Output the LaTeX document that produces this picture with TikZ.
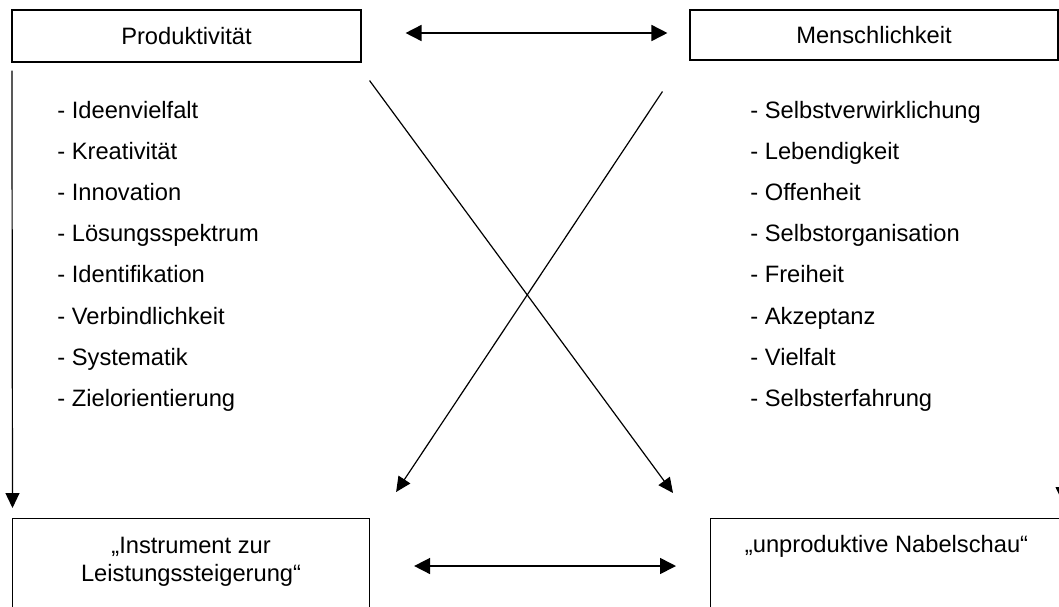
\documentclass[tikz,border=0pt]{standalone}
\usepackage{fontspec}
\setmainfont{Liberation Sans}
\usetikzlibrary{calc,positioning,arrows.meta}

\begin{document}
\begin{tikzpicture}[x=0.5pt, y=-0.5pt, every node/.style={font=\fontsize{11.85}{14}\selectfont},
  box/.style={draw, line width=0.55pt, inner sep=0pt},
  boxtext/.style={align=center, inner sep=0pt, anchor=north},
  arr/.style={-{Triangle[length=7.5pt,width=7pt]}, line width=0.6pt},
  dblarr/.style={{Triangle[length=8pt,width=8pt]}-{Triangle[length=8pt,width=8pt]}, line width=0.8pt},
  item/.style={anchor=base west, inner sep=0pt}]
  \clip (0,0) rectangle (1059,606);

  % Top boxes
  \node[box, minimum width=174.5pt, minimum height=26pt] (prod) at (186.5,36) {Produktivität};
  \node[box, minimum width=184pt, minimum height=25pt] (mensch) at (874,35) {Menschlichkeit};

  % Bottom boxes (open at the lower edge)
  \node[box, anchor=north west, minimum width=178.5pt, minimum height=65pt] (instr) at (12,518) {};
  \node[box, anchor=north west, minimum width=176pt, minimum height=65pt] (unprod) at (710,518) {};
  \node[boxtext] (instrtxt) at ($(instr.north)+(0,19)$) {„Instrument zur\\Leistungssteigerung“};
  \node[boxtext] (unprodtxt) at ($(unprod.north)+(0,17)$) {„unproduktive Nabelschau“};

  % Lists
  \foreach \txt [count=\i] in {Ideenvielfalt, Kreativität, Innovation, Lösungsspektrum,
      Identifikation, Verbindlichkeit, Systematik, Zielorientierung}
    \node[item] (prod\i) at (57,{118+41.2*(\i-1)}) {- \txt};
  \foreach \txt [count=\i] in {Selbstverwirklichung, Lebendigkeit, Offenheit, Selbstorganisation,
      Freiheit, Akzeptanz, Vielfalt, Selbsterfahrung}
    \node[item] (mensch\i) at (750,{118+41.2*(\i-1)}) {- \txt};

  % Arrows
  \draw[dblarr] ($(prod.east)+(44,-3)$) -- ($(mensch.west)+(-22,-2)$);
  \draw[dblarr] ($(instr.north east)+(44,48)$) -- ($(unprod.north west)+(-34,48)$);
  \draw[arr] ($(prod.south west)+(0.5,8)$) -- ($(instr.north west)+(0.5,-10)$);
  \draw[arr] ($(mensch.south east)+(4,10)$) -- ($(mensch.south east |- unprod.north)+(4,-16)$);
  \draw[arr] ($(prod.south east)+(8,18)$) -- ($(unprod.north west)+(-37,-25)$);
  \draw[arr] ($(mensch.south west)+(-27,31)$) -- ($(instr.north east)+(26,-26)$);
\end{tikzpicture}
\end{document}
